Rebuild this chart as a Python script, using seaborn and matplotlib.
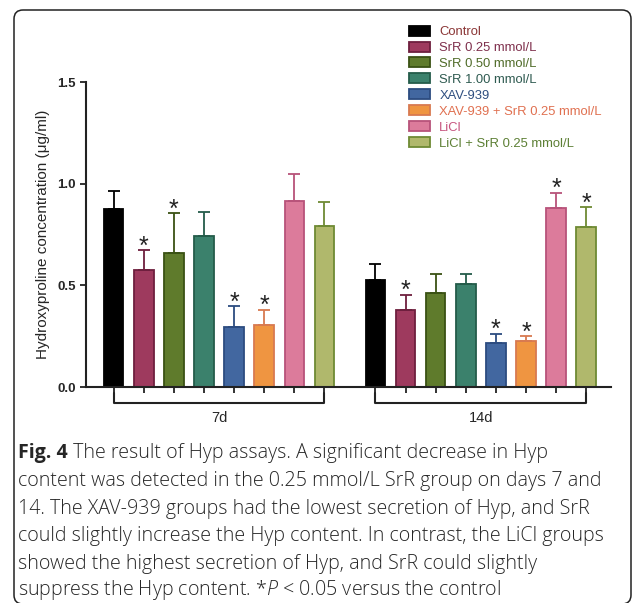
import matplotlib
matplotlib.use("Agg")
import matplotlib.pyplot as plt
import matplotlib.transforms as mtransforms
from matplotlib.patches import FancyBboxPatch, Patch
import pandas as pd
import seaborn as sns

# data
days = ["7d", "14d"]
groups = [
    "Control",
    "SrR 0.25 mmol/L",
    "SrR 0.50 mmol/L",
    "SrR 1.00 mmol/L",
    "XAV-939",
    "XAV-939 + SrR 0.25 mmol/L",
    "LiCl",
    "LiCl + SrR 0.25 mmol/L",
]
mean_7d = [0.876, 0.573, 0.660, 0.742, 0.296, 0.304, 0.917, 0.791]
err_7d = [0.090, 0.099, 0.194, 0.121, 0.101, 0.077, 0.133, 0.117]
mean_14d = [0.525, 0.377, 0.462, 0.508, 0.217, 0.224, 0.881, 0.788]
err_14d = [0.081, 0.077, 0.092, 0.046, 0.046, 0.026, 0.075, 0.096]
sig_7d = [0, 1, 1, 0, 1, 1, 0, 0]
sig_14d = [0, 1, 0, 0, 1, 1, 1, 1]

fill_colors = ["#000000", "#9e3a5e", "#5f7b2c", "#3b816c", "#4267a0", "#ef9541", "#dc7b9b", "#b0b86c"]
edge_colors = ["#000000", "#6e1f3e", "#3a5214", "#245c4a", "#2c4c80", "#d87a50", "#b8537a", "#6e8a34"]
text_colors = ["#8a3535", "#7e2f4c", "#4f6b28", "#2e5a50", "#2f4f80", "#e07050", "#c75580", "#5c7f34"]

df = pd.DataFrame(
    {
        "day": [days[0]] * 8 + [days[1]] * 8,
        "group": groups * 2,
        "value": mean_7d + mean_14d,
    }
)
errs = err_7d + err_14d
sigs = sig_7d + sig_14d
means = mean_7d + mean_14d

sns.set_theme(style="ticks")
plt.rcParams["font.family"] = ["Liberation Sans", "DejaVu Sans"]
plt.rcParams["mathtext.fontset"] = "custom"
plt.rcParams["mathtext.it"] = "Open Sans:italic:light"
plt.rcParams["mathtext.rm"] = "Open Sans:light"

fig = plt.figure(figsize=(6.33, 6.03), dpi=100)
ax = fig.add_axes([0.1359, 0.3582, 0.8293, 0.5058])

sns.barplot(
    data=df, x="day", y="value", hue="group", order=days, hue_order=groups,
    palette=fill_colors, width=0.92, gap=0.35, errorbar=None, legend=False,
    saturation=1, ax=ax,
)

patches = sorted(ax.patches, key=lambda p: p.get_x())
centers = []
for k, p in enumerate(patches):
    g = k % 8
    p.set_edgecolor(edge_colors[g])
    p.set_linewidth(1.3)
    cx = p.get_x() + p.get_width() / 2
    centers.append(cx)
    ax.errorbar(cx, means[k], yerr=[[0], [errs[k]]], fmt="none", ecolor=edge_colors[g],
                elinewidth=1.3, capsize=4, capthick=1.3, zorder=1)
    if sigs[k]:
        ax.annotate("*", xy=(cx, means[k] + errs[k]), xytext=(0, -2.5), textcoords="offset points",
                    ha="center", va="baseline", fontsize=18, color="#222222")

ax.set_xlim(-0.508, 1.497)
ax.set_ylim(0, 1.5)
ax.set_yticks([0.0, 0.5, 1.0, 1.5])
ax.set_yticklabels(["0.0", "0.5", "1.0", "1.5"], fontweight="bold", fontsize=9.5)
ax.set_xticks(centers)
ax.set_xticklabels([])
ax.tick_params(axis="both", direction="out", length=4, width=1.3, color="#222222")
ax.set_xlabel("")
ax.set_ylabel("Hydroxyproline concentration (\u03bcg/ml)", fontsize=11, labelpad=5)
sns.despine(ax=ax)
for s in ["left", "bottom"]:
    ax.spines[s].set_linewidth(1.5)
    ax.spines[s].set_color("#222222")

# group brackets
trans = mtransforms.blended_transform_factory(ax.transData, ax.transAxes)
for d in range(2):
    x0, x1 = centers[d * 8], centers[d * 8 + 7]
    ax.plot([x0, x0, x1, x1], [-0.02, -0.052, -0.052, -0.02], transform=trans,
            color="#222222", lw=1.5, clip_on=False)
    ax.text((x0 + x1) / 2, -0.078, days[d], transform=trans, ha="center", va="top", fontsize=10.5)

handles = [Patch(facecolor=f, edgecolor=e, linewidth=1.3) for f, e in zip(fill_colors, edge_colors)]
leg = fig.legend(handles, groups, loc="upper left", bbox_to_anchor=(0.628, 0.977), frameon=False,
                 fontsize=9.4, handlelength=1.6, handleheight=0.8, handletextpad=0.7, labelspacing=0.26)
for t, c in zip(leg.get_texts(), text_colors):
    t.set_color(c)

# caption
cap_font = ["Open Sans", "DejaVu Sans"]
fs = 14.1
t0 = fig.text(18 / 633, 1 - 463 / 603, "Fig. 4", fontsize=fs, fontweight="bold", family=cap_font, va="bottom")
ax.annotate(" The result of Hyp assays. A significant decrease in Hyp", xy=(1, 0), xycoords=t0,
            va="bottom", ha="left", fontsize=fs, family=cap_font, fontweight="light",
            annotation_clip=False)
lines = [
    "content was detected in the 0.25 mmol/L SrR group on days 7 and",
    "14. The XAV-939 groups had the lowest secretion of Hyp, and SrR",
    "could slightly increase the Hyp content. In contrast, the LiCl groups",
    "showed the highest secretion of Hyp, and SrR could slightly",
    "suppress the Hyp content. *$P$ < 0.05 versus the control",
]
for i, ln in enumerate(lines):
    fig.text(18 / 633, 1 - (463 + 27.8 * (i + 1)) / 603, ln, fontsize=fs, family=cap_font,
             fontweight="light", va="bottom")

fig.patches.append(FancyBboxPatch((14, -1), 617, 594, boxstyle="round,pad=0,rounding_size=9",
                                  transform=mtransforms.IdentityTransform(), fill=False,
                                  edgecolor="#222222", linewidth=1.1))

fig.savefig("out.png", dpi=100)
